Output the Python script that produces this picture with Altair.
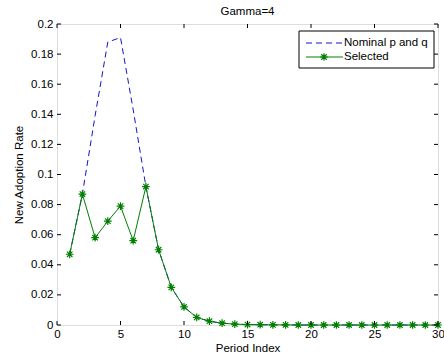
import altair as alt
import pandas as pd

periods = list(range(1, 31))
selected = [0.047, 0.087, 0.058, 0.069, 0.079, 0.056, 0.092, 0.050, 0.025, 0.012,
            0.005, 0.0025, 0.0012, 0.0006, 0.0003, 0.0002, 0.0001, 0.0001, 0.0, 0.0,
            0.0, 0.0, 0.0, 0.0, 0.0, 0.0, 0.0, 0.0, 0.0, 0.0]
nominal = [0.047, 0.087, 0.139, 0.188, 0.191, 0.143, 0.092, 0.050, 0.025, 0.012,
           0.005, 0.0025, 0.0012, 0.0006, 0.0003, 0.0002, 0.0001, 0.0001, 0.0, 0.0,
           0.0, 0.0, 0.0, 0.0, 0.0, 0.0, 0.0, 0.0, 0.0, 0.0]
series_names = ["Nominal p and q", "Selected"]
x_ticks = [0, 5, 10, 15, 20, 25, 30]
y_ticks = [0, 0.02, 0.04, 0.06, 0.08, 0.1, 0.12, 0.14, 0.16, 0.18, 0.2]

W, H = 381, 301
FONT = "Liberation Sans"
FS = 11.5
BLUE = "#1414c8"
GREEN = "#008000"
STAR = "M-1,0L1,0M0,-1L0,1M-0.7,-0.7L0.7,0.7M-0.7,0.7L0.7,-0.7"

df = pd.DataFrame({"period": periods, "nominal": nominal, "selected": selected})
xt = pd.DataFrame({"t": x_ticks})
yt = pd.DataFrame({"t": y_ticks})
one = pd.DataFrame({"k": [0]})

xscale = alt.Scale(domain=[0, 30], nice=False, zero=False)
yscale = alt.Scale(domain=[0, 0.2], nice=False)

xaxis = alt.Axis(values=x_ticks, tickSize=0, domain=False, grid=False, labelPadding=3,
                 labelFont=FONT, labelFontSize=FS, labelColor="black", title="Period Index",
                 titleFont=FONT, titleFontSize=FS, titleFontWeight="normal", titleColor="black",
                 titlePadding=3, labelFlush=False, labelOverlap=False)
yaxis = alt.Axis(values=y_ticks, tickSize=0, domain=False, grid=False, labelPadding=4, format="~g",
                 labelFont=FONT, labelFontSize=FS, labelColor="black", title="New Adoption Rate",
                 titleFont=FONT, titleFontSize=FS, titleFontWeight="normal", titleColor="black",
                 titlePadding=6, labelFlush=False, labelOverlap=False)

base = alt.Chart(df)

nom = base.mark_line(color=BLUE, strokeDash=[6, 4], strokeWidth=1).encode(
    x=alt.X("period:Q", scale=xscale, axis=xaxis),
    y=alt.Y("nominal:Q", scale=yscale, axis=yaxis),
)
sel_line = base.mark_line(color=GREEN, strokeWidth=1).encode(
    x=alt.X("period:Q", scale=xscale, axis=xaxis),
    y=alt.Y("selected:Q", scale=yscale, axis=yaxis),
)
sel_pts = base.mark_point(shape=STAR, size=60, filled=False, color=GREEN, strokeWidth=1.2, opacity=1).encode(
    x=alt.X("period:Q", scale=xscale, axis=xaxis),
    y=alt.Y("selected:Q", scale=yscale, axis=yaxis),
)

tk = 4
xb = alt.Chart(xt).mark_rule(color="black", strokeWidth=1).encode(
    x=alt.X("t:Q", scale=xscale, axis=xaxis), y=alt.value(H), y2=alt.value(H - tk))
xtop = alt.Chart(xt).mark_rule(color="black", strokeWidth=1).encode(
    x=alt.X("t:Q", scale=xscale, axis=xaxis), y=alt.value(0), y2=alt.value(tk))
yl = alt.Chart(yt).mark_rule(color="black", strokeWidth=1).encode(
    y=alt.Y("t:Q", scale=yscale, axis=yaxis), x=alt.value(0), x2=alt.value(tk))
yr = alt.Chart(yt).mark_rule(color="black", strokeWidth=1).encode(
    y=alt.Y("t:Q", scale=yscale, axis=yaxis), x=alt.value(W), x2=alt.value(W - tk))

leg_box = alt.Chart(one).mark_rect(fill="white", stroke="black", strokeWidth=1).encode(
    x=alt.value(242), x2=alt.value(377), y=alt.value(7), y2=alt.value(44))
leg_l1 = alt.Chart(one).mark_rule(color=BLUE, strokeDash=[6, 4], strokeWidth=1).encode(
    x=alt.value(249), x2=alt.value(286), y=alt.value(19))
leg_l2 = alt.Chart(one).mark_rule(color=GREEN, strokeWidth=1).encode(
    x=alt.value(249), x2=alt.value(286), y=alt.value(33))
leg_star = alt.Chart(one).mark_point(shape=STAR, size=60, filled=False, color=GREEN, strokeWidth=1.2, opacity=1).encode(
    x=alt.value(267), y=alt.value(33))
leg_t1 = alt.Chart(one).mark_text(align="left", baseline="middle", font=FONT, fontSize=FS, color="black").encode(
    x=alt.value(287), y=alt.value(19), text=alt.value(series_names[0]))
leg_t2 = alt.Chart(one).mark_text(align="left", baseline="middle", font=FONT, fontSize=FS, color="black").encode(
    x=alt.value(287), y=alt.value(33), text=alt.value(series_names[1]))

chart = alt.layer(
    nom, sel_line, sel_pts, xb, xtop, yl, yr,
    leg_box, leg_l1, leg_l2, leg_star, leg_t1, leg_t2
).properties(
    width=W, height=H,
    title=alt.Title("Gamma=4", font=FONT, fontSize=FS, fontWeight="normal", color="black", offset=1),
    padding={"left": 57, "top": 24, "right": 6, "bottom": 35},
    autosize=alt.AutoSizeParams(type="none"),
).configure_view(stroke="black", strokeWidth=1).configure(background="white")

chart.save("out.html", embed_options={"renderer": "svg", "actions": False})
